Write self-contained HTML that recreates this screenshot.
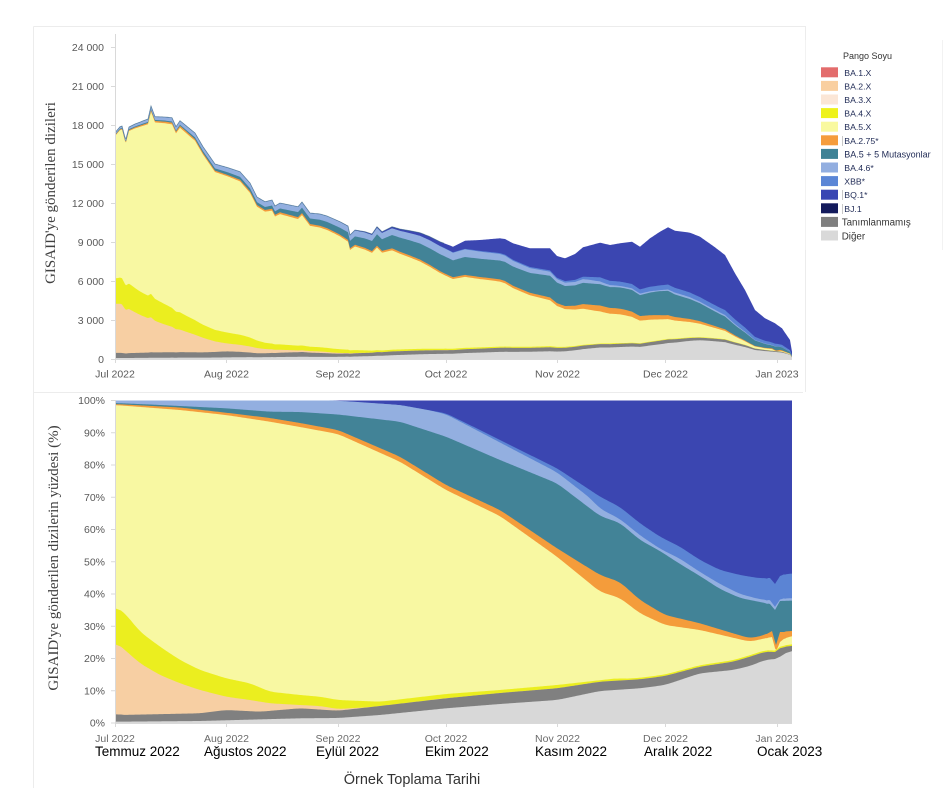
<!DOCTYPE html>
<html><head><meta charset="utf-8">
<style>
html,body{margin:0;padding:0;background:#fff;width:945px;height:788px;overflow:hidden}
svg{display:block}
text{font-family:"Liberation Sans",sans-serif}
.ser{font-family:"Liberation Serif",serif}
</style></head><body>
<svg id="s" width="945" height="788" viewBox="0 0 945 788" xmlns="http://www.w3.org/2000/svg">
<g stroke="#ececec" stroke-width="1" fill="none">
<path d="M33.5,26.5 H805.5 V392"/>
<path d="M33.5,26.5 V788"/>
<path d="M33.5,392.5 H803"/>
<path d="M805.5,40 V250" stroke="#f2f2f2"/>
<path d="M942.5,40 V250" stroke="#f2f2f2"/>
</g>
<g id="top"></g>
<g id="bot"></g>

<!-- axes lines -->
<g stroke="#d9d9d9" stroke-width="1" fill="none">
<path d="M115.5,34 V359.5 H792"/>
<path d="M111,47.5H115M111,86.5H115M111,125.5H115M111,164.5H115M111,203.5H115M111,242.5H115M111,281.5H115M111,320.5H115M111,359.5H115"/>
<path d="M115.5,359V363M226.5,359V363M338.5,359V363M446.5,359V363M557.5,359V363M665.5,359V363M777.5,359V363"/>
<path d="M115.5,400 V723.5 H792"/>
<path d="M111,400.5H115M111,432.8H115M111,465H115M111,497.3H115M111,529.5H115M111,561.8H115M111,594H115M111,626.3H115M111,658.5H115M111,690.8H115M111,723H115"/>
<path d="M115.5,723V727M226.5,723V727M338.5,723V727M446.5,723V727M557.5,723V727M665.5,723V727M777.5,723V727"/>
</g>

<!-- top y labels -->
<g font-size="10.5" fill="#595959" text-anchor="end">
<text x="104" y="51">24 000</text>
<text x="104" y="90">21 000</text>
<text x="104" y="129">18 000</text>
<text x="104" y="168">15 000</text>
<text x="104" y="207">12 000</text>
<text x="104" y="246">9 000</text>
<text x="104" y="285">6 000</text>
<text x="104" y="324">3 000</text>
<text x="104" y="363">0</text>
</g>
<g font-size="10.5" fill="#595959" text-anchor="middle">
<text x="115" y="377.5">Jul 2022</text>
<text x="226.5" y="377.5">Aug 2022</text>
<text x="338" y="377.5">Sep 2022</text>
<text x="446" y="377.5">Oct 2022</text>
<text x="557.5" y="377.5">Nov 2022</text>
<text x="665.5" y="377.5">Dec 2022</text>
<text x="777" y="377.5">Jan 2023</text>
</g>

<!-- bottom y labels -->
<g font-size="10.5" fill="#595959" text-anchor="end">
<text x="105" y="404.2">100%</text>
<text x="105" y="436.5">90%</text>
<text x="105" y="468.7">80%</text>
<text x="105" y="501">70%</text>
<text x="105" y="533.2">60%</text>
<text x="105" y="565.5">50%</text>
<text x="105" y="597.7">40%</text>
<text x="105" y="630">30%</text>
<text x="105" y="662.2">20%</text>
<text x="105" y="694.5">10%</text>
<text x="105" y="726.7">0%</text>
</g>
<g font-size="10.5" fill="#6b6b6b" text-anchor="middle">
<text x="115" y="742">Jul 2022</text>
<text x="226.5" y="742">Aug 2022</text>
<text x="338" y="742">Sep 2022</text>
<text x="446" y="742">Oct 2022</text>
<text x="557.5" y="742">Nov 2022</text>
<text x="665.5" y="742">Dec 2022</text>
<text x="777" y="742">Jan 2023</text>
</g>
<g font-size="13.5" fill="#000">
<text x="95" y="756">Temmuz 2022</text>
<text x="204" y="756">Ağustos 2022</text>
<text x="316" y="756">Eylül 2022</text>
<text x="425" y="756">Ekim 2022</text>
<text x="535" y="756">Kasım 2022</text>
<text x="644" y="756">Aralık 2022</text>
<text x="757" y="756">Ocak 2023</text>
</g>
<text x="412" y="784" font-size="14.5" fill="#333" text-anchor="middle">Örnek Toplama Tarihi</text>

<!-- axis titles -->
<text class="ser" transform="translate(55,193) rotate(-90)" font-size="15" fill="#404040" text-anchor="middle">GISAID'ye gönderilen dizileri</text>
<text class="ser" transform="translate(58,558) rotate(-90)" font-size="15" fill="#404040" text-anchor="middle">GISAID'ye gönderilen dizilerin yüzdesi (%)</text>

<!-- legend -->
<text x="843" y="59" font-size="9" fill="#333">Pango Soyu</text>
<g>
<rect x="821" y="67.3" width="17" height="10" fill="#e36c6c"/>
<rect x="821" y="80.9" width="17" height="10" fill="#f9cfa0"/>
<rect x="821" y="94.5" width="17" height="10" fill="#fbe6d6"/>
<rect x="821" y="108.1" width="17" height="10" fill="#eef21a"/>
<rect x="821" y="121.7" width="17" height="10" fill="#f9f99f"/>
<rect x="821" y="135.3" width="17" height="10" fill="#f59c3c"/>
<rect x="821" y="148.9" width="17" height="10" fill="#3f8296"/>
<rect x="821" y="162.5" width="17" height="10" fill="#92aee0"/>
<rect x="821" y="176.1" width="17" height="10" fill="#5b86d6"/>
<rect x="821" y="189.7" width="17" height="10" fill="#3946b3"/>
<rect x="821" y="203.3" width="17" height="10" fill="#131a5c"/>
<rect x="821" y="216.9" width="17" height="10" fill="#7f7f7f"/>
<rect x="821" y="230.5" width="17" height="10" fill="#d9d9d9"/>
</g>
<g stroke="#bbb" stroke-width="0.8">
<path d="M842.5,136V146M842.5,190V200M842.5,204V214"/>
</g>
<g font-size="8.7" fill="#1f2a55">
<text x="844.3" y="75.8">BA.1.X</text>
<text x="844.3" y="89.4">BA.2.X</text>
<text x="844.3" y="103">BA.3.X</text>
<text x="844.3" y="116.6">BA.4.X</text>
<text x="844.3" y="130.2">BA.5.X</text>
<text x="844.3" y="143.8">BA.2.75*</text>
<text x="844.3" y="157.4" font-size="9">BA.5 + 5 Mutasyonlar</text>
<text x="844.3" y="171">BA.4.6*</text>
<text x="844.3" y="184.6">XBB*</text>
<text x="844.3" y="198.2">BQ.1*</text>
<text x="844.3" y="211.8">BJ.1</text>
</g>
<g font-size="9.8" fill="#333">
<text x="841.7" y="225.7">Tanımlanmamış</text>
<text x="841.7" y="239.3">Diğer</text>
</g>
</svg>
<script>
(function(){
function ip(p,x){if(x<=p[0][0])return p[0][1];for(var i=1;i<p.length;i++){if(x<=p[i][0]){var a=p[i-1],b=p[i];return a[1]+(b[1]-a[1])*(x-a[0])/(b[0]-a[0]);}}return p[p.length-1][1];}
var TOT=[[115,132.7],[120,126.7],[122,126],[125.7,140],[129,127],[135,124],[148,119],[151,106],[155,116.7],[165,117],[172,117.7],[176,126.7],[180,120.7],[195,133],[203,146.7],[215,164],[228,167.7],[240,171.7],[250,183],[257,197],[265,201.7],[272,200],[275,206],[280,203],[298,206.7],[302,202],[310,213],[320,214],[327,216],[340,221.7],[348,226],[350,235],[355,230],[365,231.7],[372,234],[377,226.7],[382,231.7],[392,226.7],[400,229],[410,230.7],[420,232.7],[430,236.7],[440,241.7],[453,246.7],[465,240.7],[480,240],[500,238.3],[505,239],[513,243.3],[530,248.3],[550,248.3],[557,256],[565,258.3],[575,254],[583,247.3],[600,242.7],[610,245],[620,243.3],[632,241.7],[640,246.7],[650,238.3],[660,231.7],[668,227.3],[675,230.7],[690,232.7],[700,236.7],[715,247.3],[725,255],[735,273.3],[745,290],[755,310],[765,318.3],[775,323.3],[782,328.3],[790,340],[792,351.7]];
var XBB=[[115,400.5],[330,400.5],[350,401.5],[400,405],[446,413.3],[480,430],[520,450],[557,468.3],[590,490],[600,496.7],[620,507],[640,523.3],[660,536.7],[680,546.7],[700,560],[710,565],[720,570],[740,575],[760,578.3],[770,578],[775,584],[780,576],[785,574],[792,573.3]];
var XT=[[115,0],[430,0],[446,1],[480,2],[520,3],[557,4],[590,8],[600,12],[620,12],[660,12],[700,12],[720,14],[740,19],[760,21],[792,25]];
var TEAL=[[115,403],[150,404.5],[180,406],[226,408.3],[270,411.7],[300,412],[338,414.5],[400,421.7],[446,436.7],[500,460],[557,483.3],[600,516],[620,523],[640,540],[660,551],[680,564],[700,576],[720,589],[740,598],[760,602],[770,604],[775,610],[780,601],[792,600.5]];
var OR=[[115,404],[180,407.5],[226,412.7],[270,418],[300,423],[338,430],[400,456.7],[446,485],[500,510],[557,548.3],[600,575],[620,582],[640,600],[665,615],[700,623.3],[733,633.3],[750,638.3],[765,635],[772,631],[776,645],[780,632],[785,632],[792,630]];
var Y5=[[115,405],[180,410],[226,415],[270,421.7],[300,427],[338,434],[400,461.7],[446,490],[500,516],[557,556.7],[600,591.7],[620,598],[640,613.3],[665,625],[700,630],[733,637.7],[750,641.7],[765,638.3],[772,637],[776,652],[780,642],[785,638],[792,635]];
var Y4=[[115,606.7],[118,608],[125,613.3],[140,631.7],[160,646.7],[180,660],[200,670],[226,678.3],[250,683.3],[270,691.7],[300,695],[320,696.7],[338,700],[380,701.7],[446,694],[500,690],[557,685],[620,678]];
var Y2=[[115,641.7],[125,650],[140,663.3],[160,675],[180,683.3],[200,690],[226,696.7],[250,700],[270,703.3],[300,705],[320,706],[338,709],[380,706.5],[446,698]];
var GR=[[115,713.3],[120,715],[200,713.3],[226,710],[260,711.7],[300,708.3],[338,710.7],[380,706],[446,698.3],[500,693],[557,688.3],[600,681.7],[640,679.3],[665,676],[700,666.7],[733,661.7],[750,656.7],[765,651.7],[775,652],[780,648.3],[792,645]];
var LG=[[115,721.7],[200,721],[300,718.3],[338,718],[380,715],[446,708.3],[500,704],[557,700],[600,691],[640,688.3],[665,685],[700,673.3],[733,670],[750,666],[765,660],[775,659],[780,656.7],[792,649.3]];
var B0=723,BH=322.5,BT=400.5;
function bounds(x){
 var gr=ip(GR,x), lg=Math.max(ip(LG,x),gr);
 var y2=x<=446?Math.min(ip(Y2,x),gr):gr;
 var y4=x<=620?ip(Y4,x):gr-1.5; y4=Math.min(y4,y2);
 var y5=Math.min(ip(Y5,x),y4);
 var or=Math.min(ip(OR,x),y5);
 var te=Math.min(ip(TEAL,x),or);
 var xb=Math.min(ip(XBB,x),te);
 var lb=Math.min(xb+ip(XT,x),te);
 return [BT,xb,lb,te,or,y5,y4,y2,gr,lg];
}
var cols=['#3b46b1','#5b84d4','#93afe0','#428397','#f49c3b','#f8f8a2','#ebee1f','#f7cfa3','#808080','#d8d8d8'];
var NS='http://www.w3.org/2000/svg';
var raw=[],xs=[];
for(var x=115;x<=792;x+=1){xs.push(x);raw.push(bounds(x));}
var n=xs.length,W=6,sm=[];
for(var i=0;i<n;i++){
 var x=xs[i];
 if(x>=768&&x<=784){sm.push(raw[i]);continue;}
 var acc=[0,0,0,0,0,0,0,0,0,0],c=0;
 for(var j=Math.max(0,i-W);j<=Math.min(n-1,i+W);j++){for(var k=0;k<10;k++)acc[k]+=raw[j][k];c++;}
 for(var k=0;k<10;k++)acc[k]/=c;
 sm.push(acc);
}
var topPts=[],botPts=[];
for(var k=0;k<10;k++){topPts.push([]);botPts.push([]);}
for(var i=0;i<n;i++){
 var x=xs[i],b=sm[i],t=ip(TOT,x),h=359-t;
 for(var k=0;k<10;k++){
  botPts[k].push(x+','+b[k].toFixed(2));
  var f=(B0-b[k])/BH;
  topPts[k].push(x+','+(359-h*f).toFixed(2));
 }
}
var gt=document.getElementById('top'), gb=document.getElementById('bot');
for(var k=0;k<10;k++){
 var p1=document.createElementNS(NS,'path');
 p1.setAttribute('d','M115,359 L'+topPts[k].join(' L')+' L792,359 Z');
 p1.setAttribute('fill',cols[k]);
 gt.appendChild(p1);
 var p2=document.createElementNS(NS,'path');
 p2.setAttribute('d','M115,723 L'+botPts[k].join(' L')+' L792,723 Z');
 p2.setAttribute('fill',cols[k]);
 gb.appendChild(p2);
}
var ol=document.createElementNS(NS,'path');
ol.setAttribute('d','M'+topPts[0].slice(0,330).join(' L'));
ol.setAttribute('fill','none');ol.setAttribute('stroke','#2f5f78');ol.setAttribute('stroke-width','0.8');ol.setAttribute('opacity','0.6');
gt.appendChild(ol);
})();
</script>
</body></html>
